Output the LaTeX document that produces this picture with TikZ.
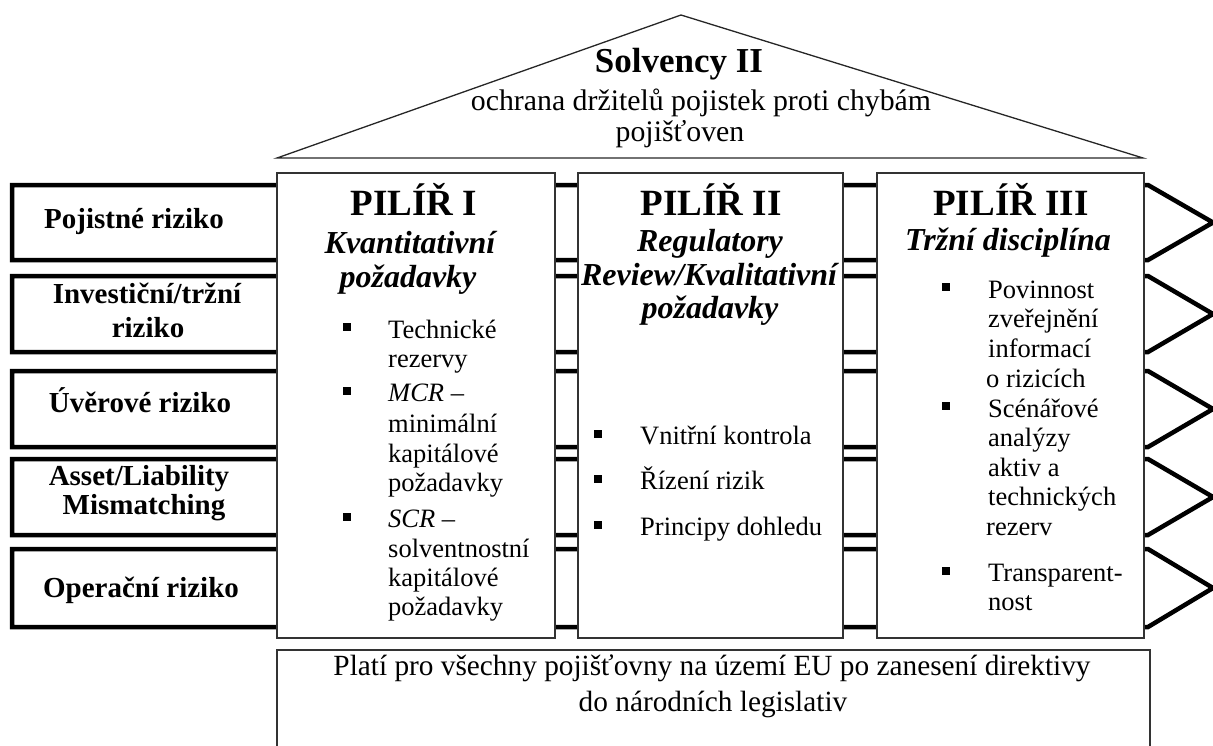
\documentclass[tikz,border=0pt]{standalone}
\usepackage{fontspec}
\setmainfont{Liberation Serif}
\begin{document}
\begin{tikzpicture}[x=1pt,y=-1pt,
  band/.style={line width=4.5pt,draw=black,fill=white},
  pillar/.style={line width=1.3pt,draw=black!80,fill=white},
  risk/.style={font=\bfseries\fontsize{29}{33}\selectfont,anchor=base,inner sep=0pt},
  pil/.style={font=\bfseries\fontsize{37}{40}\selectfont,anchor=base,inner sep=0pt},
  sub/.style={font=\bfseries\itshape\fontsize{32}{36}\selectfont,anchor=base,inner sep=0pt},
  body/.style={font=\fontsize{26.5}{30}\selectfont,anchor=base west,inner sep=0pt},
  roofc/.style={font=\fontsize{29.8}{33}\selectfont,anchor=base,inner sep=0pt},
  botc/.style={font=\fontsize{29.3}{33}\selectfont,anchor=base,inner sep=0pt},
  bul/.style={fill=black,inner sep=0pt,minimum size=7.5pt}]
\useasboundingbox (0,0) rectangle (1213,745);
\clip (0,0) rectangle (1213,745);
% roof
\draw[line width=1.3pt,draw=black!85,line join=miter] (277,158) -- (681,15) -- (1143,158) -- cycle;
\node[font=\bfseries\fontsize{35}{38}\selectfont,anchor=base,inner sep=0pt] (solv) at (679,72) {Solvency II};
\node[roofc] (roof1) at (701,110) {ochrana držitelů pojistek proti chybám};
\node[roofc] (roof2) at (680,141) {pojišťoven};
% risk bands
\draw[band] (12,185) -- (1148,185) -- (1213,222.5) -- (1148,260) -- (12,260) -- cycle;
\draw[band] (12,276) -- (1148,276) -- (1213,314) -- (1148,352) -- (12,352) -- cycle;
\draw[band] (12,371) -- (1148,371) -- (1213,409) -- (1148,447) -- (12,447) -- cycle;
\draw[band] (12,459) -- (1148,459) -- (1213,497) -- (1148,535) -- (12,535) -- cycle;
\draw[band] (12,549) -- (1148,549) -- (1213,588) -- (1148,627) -- (12,627) -- cycle;
\node[risk] (r1) at (134,228) {Pojistné riziko};
\node[risk] (r2a) at (147,303) {Investiční/tržní};
\node[risk] (r2b) at (148,337) {riziko};
\node[risk] (r3) at (140,412) {Úvěrové riziko};
\node[risk] (r4a) at (139,485) {Asset/Liability};
\node[risk] (r4b) at (144,514) {Mismatching};
\node[risk] (r5) at (141,597) {Operační riziko};
% pillars
\draw[pillar] (277,173) rectangle (555,638);
\draw[pillar] (578,173) rectangle (843,638);
\draw[pillar] (877,173) rectangle (1144,638);
% bottom box
\draw[pillar] (277,650) rectangle (1150,770);
\node[botc] (bot1) at (712,675) {Platí pro všechny pojišťovny na území EU po zanesení direktivy};
\node[botc] (bot2) at (713,711) {do národních legislativ};
% pillar I
\node[pil] (p1t) at (414,215) {PILÍŘ I};
\node[sub] (p1s1) at (410,253) {Kvantitativní};
\node[sub] (p1s2) at (408,287) {požadavky};
\node[bul] (p1b1) at (347,327) {};
\node[body] (p1l1) at (388,338) {Technické};
\node[body] (p1l2) at (388,367) {rezervy};
\node[bul] (p1b2) at (347,391) {};
\node[body] (p1l3) at (388,401) {\textit{MCR} –};
\node[body] (p1l4) at (388,432) {minimální};
\node[body] (p1l5) at (388,462) {kapitálové};
\node[body] (p1l6) at (388,491) {požadavky};
\node[bul] (p1b3) at (347,517) {};
\node[body] (p1l7) at (388,527) {\textit{SCR} –};
\node[body] (p1l8) at (388,557) {solventnostní};
\node[body] (p1l9) at (388,586) {kapitálové};
\node[body] (p1l10) at (388,615) {požadavky};
% pillar II
\node[pil] (p2t) at (711,215) {PILÍŘ II};
\node[sub] (p2s1) at (710,251) {Regulatory};
\node[sub] (p2s2) at (709,285) {Review/Kvalitativní};
\node[sub] (p2s3) at (710,318) {požadavky};
\node[bul] (p2b1) at (598,434) {};
\node[body] (p2l1) at (640,444) {Vnitřní kontrola};
\node[bul] (p2b2) at (598,479) {};
\node[body] (p2l2) at (640,489) {Řízení rizik};
\node[bul] (p2b3) at (598,525) {};
\node[body] (p2l3) at (640,535) {Principy dohledu};
% pillar III
\node[pil] (p3t) at (1011,215) {PILÍŘ III};
\node[sub] (p3s1) at (1008,250) {Tržní disciplína};
\node[bul] (p3b1) at (946,287) {};
\node[body] (p3l1) at (988,298) {Povinnost};
\node[body] (p3l2) at (988,327) {zveřejnění};
\node[body] (p3l3) at (988,357) {informací};
\node[body] (p3l4) at (986,387) {o rizicích};
\node[bul] (p3b2) at (946,406) {};
\node[body] (p3l5) at (988,417) {Scénářové};
\node[body] (p3l6) at (988,446) {analýzy};
\node[body] (p3l7) at (988,476) {aktiv a};
\node[body] (p3l8) at (988,505) {technických};
\node[body] (p3l9) at (986,535) {rezerv};
\node[bul] (p3b3) at (946,571) {};
\node[body] (p3l10) at (988,581) {Transparent-};
\node[body] (p3l11) at (988,610) {nost};
\end{tikzpicture}
\end{document}
